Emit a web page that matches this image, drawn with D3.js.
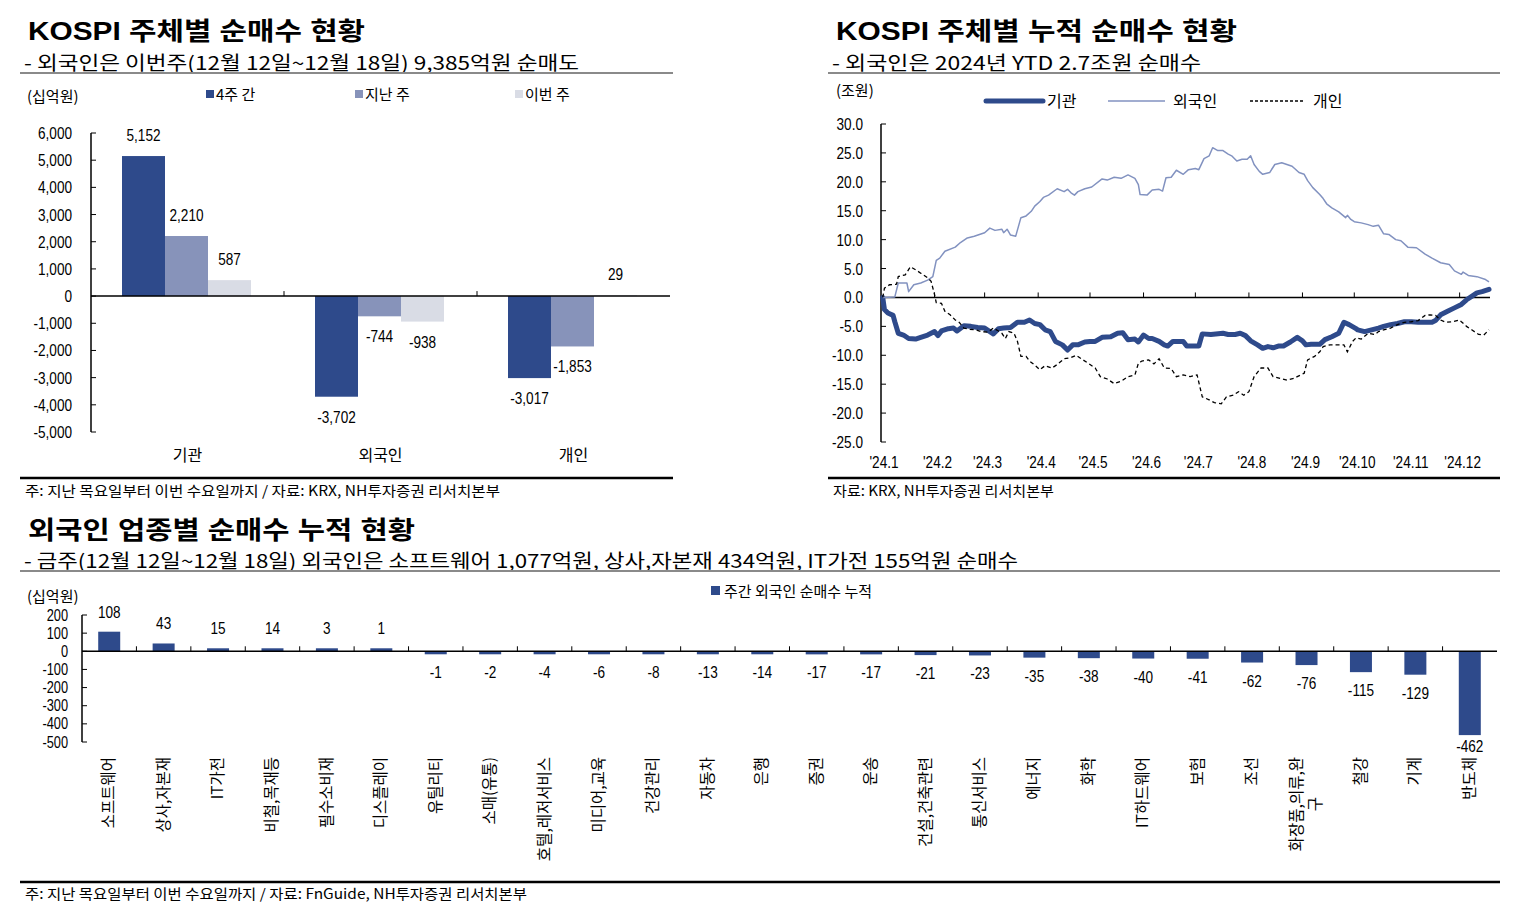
<!DOCTYPE html>
<html><head><meta charset="utf-8">
<script src="https://cdn.jsdelivr.net/npm/d3@7"></script>
<style>body{margin:0;background:#fff}svg{display:block}</style>
</head><body>
<svg id="c" width="1517" height="919"></svg>
<script>
// ---------- Chart 1 data ----------
const investors = ["기관", "외국인", "개인"];
const periodNames = ["4주 간", "지난 주", "이번 주"];
const fourWeeks = [5152, -3702, -3017];
const lastWeek = [2210, -744, -1853];
const thisWeek = [587, -938, 29];
const barTicks = [6000, 5000, 4000, 3000, 2000, 1000, 0, -1000, -2000, -3000, -4000, -5000];

// ---------- Chart 2 data ----------
const monthTicks = ["2024-01-01","2024-02-01","2024-03-01","2024-04-01","2024-05-01","2024-06-01","2024-07-01","2024-08-01","2024-09-01","2024-10-01","2024-11-01","2024-12-01"];
const monthLabels = ["'24.1","'24.2","'24.3","'24.4","'24.5","'24.6","'24.7","'24.8","'24.9","'24.10","'24.11","'24.12"];
const lineTicks = [30, 25, 20, 15, 10, 5, 0, -5, -10, -15, -20, -25];
const seriesNames = ["기관", "외국인", "개인"];

const instDates = ["01-02","01-03","01-05","01-08","01-09","01-11","01-14","01-17","01-21","01-24","01-28","02-01","02-03","02-05","02-09","02-12","02-14","02-18","02-22","02-26","03-01","03-06","03-09","03-12","03-16","03-20","03-24","03-27","03-30","04-02","04-05","04-08","04-11","04-15","04-18","04-21","04-24","04-28","05-01","05-04","05-08","05-13","05-17","05-20","05-23","05-27","05-29","06-01","06-04","06-06","06-10","06-13","06-15","06-18","06-24","06-26","07-03","07-05","07-10","07-17","07-20","07-24","07-27","07-30","08-02","08-06","08-09","08-12","08-15","08-18","08-21","08-25","08-29","09-01","09-03","09-06","09-11","09-14","09-18","09-22","09-25","09-28","10-02","10-03","10-07","10-11","10-15","10-18","10-22","10-26","10-30","11-03","11-07","11-15","11-17","11-20","11-24","11-28","12-02","12-05","12-08","12-11","12-14","12-18"];
const instValues = [0,-2.1,-2.7,-3.1,-4.2,-6.2,-6.5,-7.1,-7.2,-6.9,-6.5,-5.9,-6.6,-5.8,-5.4,-5.3,-5.8,-4.9,-5.0,-5.2,-5.3,-6.3,-5.4,-5.3,-5.2,-4.3,-4.3,-3.9,-4.5,-4.7,-5.6,-5.9,-7.6,-8.2,-9.1,-8.2,-8.2,-7.7,-7.6,-7.6,-6.9,-6.8,-6.2,-6.1,-7.3,-7.2,-7.7,-6.5,-7.1,-7.1,-7.6,-8.2,-8.4,-7.6,-7.6,-8.4,-8.4,-6.3,-6.4,-6.2,-6.4,-6.4,-6.2,-6.6,-7.5,-8.2,-8.8,-8.5,-8.7,-8.4,-8.4,-7.7,-6.9,-7.5,-8.2,-8.1,-8.1,-7.3,-6.8,-6.2,-4.3,-4.7,-5.4,-5.6,-5.9,-5.6,-5.3,-5.0,-4.7,-4.5,-4.2,-4.2,-4.3,-4.3,-4.0,-3.0,-2.4,-1.8,-1.2,-0.4,0.2,0.8,1.0,1.4];

const forDates = ["01-02","01-09","01-11","01-16","01-17","01-20","01-24","01-28","01-31","02-02","02-04","02-07","02-13","02-16","02-20","02-24","03-01","03-04","03-07","03-11","03-12","03-14","03-16","03-19","03-22","03-25","03-28","03-30","04-02","04-04","04-07","04-12","04-16","04-18","04-20","04-22","04-24","04-28","05-02","05-08","05-11","05-15","05-19","05-23","05-27","05-29","05-30","06-03","06-06","06-10","06-12","06-14","06-17","06-20","06-24","06-27","07-01","07-03","07-06","07-09","07-11","07-14","07-17","07-20","07-22","07-25","07-28","07-31","08-02","08-04","08-07","08-09","08-13","08-16","08-20","08-23","08-26","08-30","09-02","09-04","09-07","09-11","09-13","09-15","09-18","09-22","09-26","09-27","09-29","10-01","10-05","10-09","10-12","10-15","10-18","10-21","10-25","10-28","11-01","11-06","11-11","11-15","11-20","11-25","11-28","12-02","12-03","12-06","12-11","12-16","12-18"];
const forValues = [0,0.1,2.5,2.5,1.0,2.2,2.5,3.0,3.6,6.4,6.8,8.0,8.7,9.5,10.3,10.6,11.2,12.0,11.6,11.8,11.2,11.8,10.8,10.6,13.8,14.1,14.9,15.8,16.6,17.3,17.7,18.8,18.3,18.7,18.1,17.7,18.3,18.8,19.1,20.5,20.3,20.8,20.6,21.2,20.6,19.5,17.8,17.7,18.6,18.7,18.4,20.7,20.8,22.0,21.3,22.1,22.3,22.1,24.0,24.5,25.9,25.4,25.4,24.8,24.5,23.6,23.9,23.9,24.5,23.0,21.8,21.3,21.6,23.0,23.3,23.0,22.7,21.6,21.3,20.2,19.0,17.8,17.1,16.2,15.5,14.8,13.8,14.2,13.5,13.1,12.9,12.6,12.3,12.5,11.0,10.9,10.0,9.8,8.7,8.6,7.5,6.8,6.0,5.7,4.6,4.0,4.4,3.8,3.6,3.1,2.7];

const indDates = ["01-02","01-03","01-06","01-10","01-11","01-15","01-18","01-21","01-24","01-28","01-30","02-01","02-02","02-05","02-07","02-10","02-13","02-15","02-18","02-21","02-25","02-28","03-03","03-06","03-09","03-11","03-13","03-15","03-18","03-20","03-22","03-25","03-27","03-30","04-02","04-05","04-09","04-12","04-16","04-20","04-23","04-26","05-01","05-04","05-07","05-11","05-15","05-19","05-23","05-27","05-29","05-31","06-04","06-07","06-10","06-13","06-17","06-20","06-24","06-28","07-02","07-05","07-09","07-12","07-16","07-19","07-23","07-26","07-29","08-01","08-04","08-08","08-12","08-15","08-19","08-23","08-27","08-29","09-02","09-04","09-08","09-11","09-13","09-17","09-25","09-27","09-30","10-02","10-05","10-09","10-13","10-15","10-18","10-22","10-26","10-30","11-03","11-07","11-11","11-14","11-17","11-20","11-23","11-27","12-01","12-02","12-05","12-08","12-12","12-15","12-18"];
const indValues = [0,1.6,2.2,2.3,3.6,3.9,5.3,4.8,4.2,3.4,2.8,0.5,-0.9,-1.0,-2.4,-3.0,-3.9,-4.2,-5.3,-5.5,-5.6,-5.9,-6.0,-5.3,-5.8,-6.2,-7.1,-5.9,-6.2,-7.6,-10.2,-10.2,-11.0,-11.7,-12.5,-11.8,-12.2,-11.6,-10.6,-10.4,-10.0,-10.6,-11.6,-12.2,-13.7,-14.1,-14.9,-14.5,-13.7,-13.4,-11.4,-11.0,-10.8,-11.5,-10.6,-12.2,-12.3,-13.7,-13.4,-13.7,-13.4,-17.2,-17.7,-18.2,-18.4,-17.2,-16.9,-16.3,-16.9,-16.3,-13.7,-12.2,-12.2,-13.7,-14.0,-14.3,-14.0,-13.7,-13.1,-10.8,-10.2,-9.4,-8.5,-8.2,-8.2,-9.4,-7.6,-7.0,-7.2,-6.2,-6.4,-5.9,-5.6,-5.3,-4.7,-4.3,-4.2,-4.0,-3.1,-3.0,-3.1,-3.9,-4.3,-4.2,-3.9,-4.2,-5.0,-5.6,-6.4,-6.5,-5.6];

// ---------- Chart 3 data ----------
const sectors = ["소프트웨어","상사,자본재","IT가전","비철,목재등","필수소비재","디스플레이","유틸리티","소매(유통)","호텔,레저서비스","미디어,교육","건강관리","자동차","은행","증권","운송","건설,건축관련","통신서비스","에너지","화학","IT하드웨어","보험","조선","화장품,의류,완구","철강","기계","반도체"];
const sectorValues = [108,43,15,14,3,1,-1,-2,-4,-6,-8,-13,-14,-17,-17,-21,-23,-35,-38,-40,-41,-62,-76,-115,-129,-462];
const sectorTicks = [200,100,0,-100,-200,-300,-400,-500];
const sectorSeriesName = "주간 외국인 순매수 누적";

// ---------- styling ----------
const KR = "'Noto Sans CJK KR','Noto Sans',sans-serif";
const NUM = "'Liberation Sans','Arial',sans-serif";
const TTL = "'Liberation Sans','Noto Sans CJK KR',sans-serif";
const C_DARK = "#2e4a8b", C_MID = "#8793ba", C_LIGHT = "#d9dce5", C_LINE2 = "#8292c0";
const fmtInt = v => d3.format(",")(v).replace("\u2212", "-");
const fmt1 = v => d3.format(".1f")(v).replace("\u2212", "-");

const svg = d3.select("#c");
svg.append("rect").attr("width",1517).attr("height",919).attr("fill","#fff");

function text(x, y, s, o = {}) {
  const t = svg.append("text").attr("x", x).attr("y", y).text(s)
    .attr("font-family", o.ff || KR).attr("font-size", o.fs || 15)
    .attr("fill", o.fill || "#000").attr("text-anchor", o.anchor || "start");
  if (o.fw) t.attr("font-weight", o.fw);
  if (o.len) t.attr("textLength", o.len).attr("lengthAdjust", "spacingAndGlyphs");
  return t;
}
// narrow numeric text (horizontally condensed Arial-metric font)
function num(x, y, s, o = {}) {
  return svg.append("text").attr("transform", `translate(${x},${y}) scale(0.8,1)`)
    .text(s).attr("font-family", NUM).attr("font-size", o.fs || 16)
    .attr("fill", "#000").attr("text-anchor", o.anchor || "middle");
}
function line(x1, y1, x2, y2, color, w) {
  return svg.append("line").attr("x1", x1).attr("y1", y1).attr("x2", x2).attr("y2", y2)
    .attr("stroke", color).attr("stroke-width", w);
}

// ---------- headers / footers ----------
text(28, 40, "KOSPI 주체별 순매수 현황", {ff: TTL, fs: 25, fw: 700, len: 337});
text(24, 69.5, "- 외국인은 이번주(12월 12일~12월 18일) 9,385억원 순매도", {fs: 19, len: 555});
line(20, 73, 673, 73, "#8a8a8a", 2);
line(20, 478, 673, 478, "#000", 2.5);
text(25, 496, "주: 지난 목요일부터 이번 수요일까지 / 자료: KRX, NH투자증권 리서치본부", {fs: 14, len: 475});

text(836, 40, "KOSPI 주체별 누적 순매수 현황", {ff: TTL, fs: 25, fw: 700, len: 401});
text(832, 69.5, "- 외국인은 2024년 YTD 2.7조원 순매수", {fs: 19, len: 369});
line(828, 73, 1500, 73, "#8a8a8a", 2);
line(828, 478, 1500, 478, "#000", 2.5);
text(833, 496, "자료: KRX, NH투자증권 리서치본부", {fs: 14, len: 221});

text(28, 539, "외국인 업종별 순매수 누적 현황", {ff: TTL, fs: 25, fw: 700, len: 387});
text(24, 567.5, "- 금주(12월 12일~12월 18일) 외국인은 소프트웨어 1,077억원, 상사,자본재 434억원, IT가전 155억원 순매수", {fs: 19, len: 994});
line(20, 571, 1500, 571, "#8a8a8a", 2);
line(20, 882, 1500, 882, "#000", 2.5);
text(25, 899, "주: 지난 목요일부터 이번 수요일까지 / 자료: FnGuide, NH투자증권 리서치본부", {fs: 14, len: 502});

// ---------- Chart 1: grouped bars ----------
(function () {
  const y = d3.scaleLinear().domain([-5000, 6000]).range([432, 133]);
  const x0 = d3.scaleBand().domain(investors).range([91, 670]);
  const x1 = d3.scaleBand().domain(periodNames).range([31, 160]);
  const colors = [C_DARK, C_MID, C_LIGHT];
  const series = [fourWeeks, lastWeek, thisWeek];

  text(27, 102, "(십억원)", {fs: 15});
  const legX = [206, 355, 515];
  periodNames.forEach((p, i) => {
    svg.append("rect").attr("x", legX[i]).attr("y", 90).attr("width", 8).attr("height", 8).attr("fill", colors[i]);
    text(legX[i] + 10, 100, p, {fs: 15});
  });

  series.forEach((vals, si) => {
    vals.forEach((v, ci) => {
      const bx = x0(investors[ci]) + x1(periodNames[si]);
      svg.append("rect").attr("x", bx).attr("width", x1.bandwidth())
        .attr("y", Math.min(y(v), y(0))).attr("height", Math.abs(y(v) - y(0)))
        .attr("fill", colors[si]);
      num(bx + x1.bandwidth() / 2, v >= 0 ? y(v) - 15 : y(v) + 26, fmtInt(v), {fs: 17});
    });
  });
  line(91, y(6000), 91, y(-5000), "#000", 1.5);
  barTicks.forEach(t => {
    line(91, y(t), 96, y(t), "#000", 1);
    num(72, y(t) + 6, fmtInt(t), {fs: 17, anchor: "end"});
  });
  line(91, y(0), 670, y(0), "#000", 1.5);
  investors.forEach((c, i) => {
    if (i > 0) line(x0(c), y(0) - 5, x0(c), y(0), "#000", 1);
    text(x0(c) + x0.bandwidth() / 2, 461, c, {fs: 16, anchor: "middle"});
  });
})();

// ---------- Chart 2: cumulative lines ----------
(function () {
  const parse = s => d3.timeParse("%Y-%m-%d")("2024-" + s);
  const x = d3.scaleTime().domain([new Date(2024, 0, 1), new Date(2024, 11, 18)]).range([881, 1489]);
  const y = d3.scaleLinear().domain([-25, 30]).range([442, 124]);

  text(836, 96, "(조원)", {fs: 15});
  line(986, 101, 1043, 101, C_DARK, 5).attr("stroke-linecap", "round");
  text(1047, 107, seriesNames[0], {fs: 16});
  line(1108, 101, 1165, 101, C_LINE2, 1.5);
  text(1173, 107, seriesNames[1], {fs: 16});
  line(1250, 101, 1305, 101, "#000", 1.3).attr("stroke-dasharray", "3,2");
  text(1313, 107, seriesNames[2], {fs: 16});

  line(881, y(30), 881, y(-25), "#000", 1.5);
  lineTicks.forEach(t => {
    line(881, y(t), 886, y(t), "#000", 1);
    num(863, y(t) + 6, fmt1(t), {fs: 17, anchor: "end"});
  });
  line(881, y(0), 1490, y(0), "#000", 1.5);
  monthTicks.forEach((m, i) => {
    const px = x(d3.timeParse("%Y-%m-%d")(m));
    if (i > 0) line(px, y(0) - 5, px, y(0), "#000", 1);
    num(px + 3, 468, monthLabels[i], {fs: 17});
  });

  const mk = (dates, vals) => dates.map((d, i) => [x(parse(d)), y(vals[i])]);
  const gen = d3.line();
  svg.append("path").attr("d", gen(mk(instDates, instValues))).attr("fill", "none")
    .attr("stroke", C_DARK).attr("stroke-width", 5).attr("stroke-linejoin", "round").attr("stroke-linecap", "round");
  svg.append("path").attr("d", gen(mk(forDates, forValues))).attr("fill", "none")
    .attr("stroke", C_LINE2).attr("stroke-width", 1.5).attr("stroke-linejoin", "round");
  svg.append("path").attr("d", gen(mk(indDates, indValues))).attr("fill", "none")
    .attr("stroke", "#000").attr("stroke-width", 1.3).attr("stroke-dasharray", "4,3");
})();

// ---------- Chart 3: sector bars ----------
(function () {
  const x = d3.scaleBand().domain(sectors).range([82, 1497]);
  const y = d3.scaleLinear().domain([-500, 200]).range([742, 615]);
  const bw = 22;
  const wrap = {"화장품,의류,완구": ["화장품,의류,완", "구"]};

  text(27, 602, "(십억원)", {fs: 15});
  svg.append("rect").attr("x", 711).attr("y", 586).attr("width", 9).attr("height", 9).attr("fill", C_DARK);
  text(724, 597, sectorSeriesName, {fs: 15});

  sectors.forEach((s, i) => {
    const v = sectorValues[i];
    const cx = x(s) + x.bandwidth() / 2;
    const h = Math.max(Math.abs(y(v) - y(0)), 3);
    svg.append("rect").attr("x", cx - bw / 2).attr("width", bw)
      .attr("y", v >= 0 ? y(0) - h : y(0)).attr("height", h).attr("fill", C_DARK);
    const ly = v >= 0 ? y(0) - h - 14 : y(0) + h + (v < -300 ? 17 : 24);
    num(cx, ly, fmtInt(v), {fs: 17});
    const lines = wrap[s] || [s];
    const g = svg.append("g").attr("transform", `translate(${cx - (lines.length - 1) * 9.5 + 5},757) rotate(-90)`);
    let firstLen = 0;
    lines.forEach((ln, li) => {
      const t = g.append("text").attr("font-family", KR).attr("font-size", 15.5).attr("fill", "#000")
        .attr("y", li * 19).text(ln);
      if (li === 0) { t.attr("text-anchor", "end").attr("x", 0); firstLen = t.node().getComputedTextLength(); }
      else { t.attr("text-anchor", "middle").attr("x", -firstLen / 2); }
    });
    if (i > 0) line(x(s), y(0) - 5, x(s), y(0), "#000", 1);
  });
  line(82, y(200), 82, y(-500), "#000", 1.5);
  sectorTicks.forEach(t => {
    line(82, y(t), 87, y(t), "#000", 1);
    num(68, y(t) + 5.5, fmtInt(t), {fs: 16, anchor: "end"});
  });
  line(82, y(0), 1497, y(0), "#000", 1.5);
})();
</script>
</body></html>
